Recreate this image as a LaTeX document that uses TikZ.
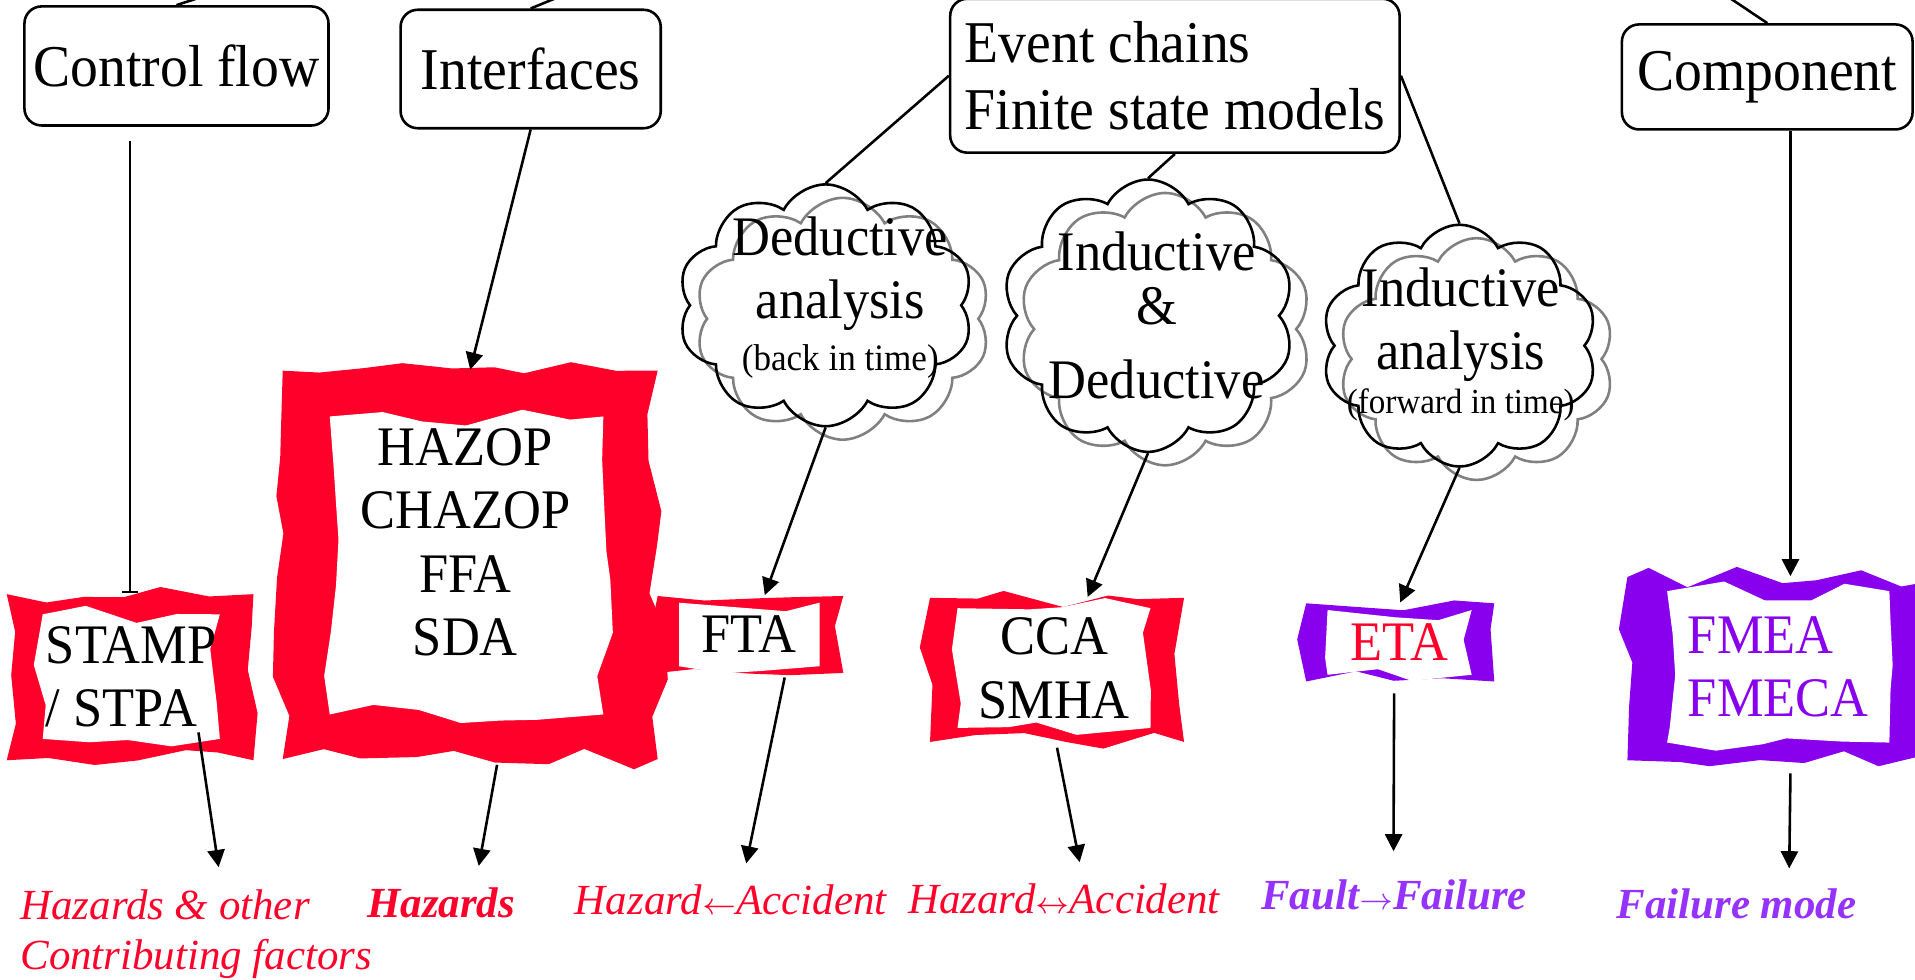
\documentclass[tikz,border=0pt]{standalone}
\usepackage{fontspec}
\setmainfont{Liberation Serif}[FakeStretch=0.94]
\newfontfamily\lblfont{Liberation Serif}
\usepackage{tikz}
\usetikzlibrary{arrows.meta,calc,positioning,shapes.symbols,decorations.pathmorphing}
\definecolor{hzred}{RGB}{255,0,43}
\definecolor{fmpur}{RGB}{136,0,238}
\definecolor{fmlbl}{RGB}{150,50,255}
\newcommand{\boxfont}{\fontsize{13.8}{15.6}\selectfont}
\newcommand{\tearfont}{\fontsize{13}{14.8}\selectfont}
\newcommand{\lblsize}{\lblfont\fontsize{10}{11.7}\selectfont}
\newcommand{\smallarr}[1]{\ensuremath{\scriptstyle#1}}

\begin{document}
\begin{tikzpicture}[>={Triangle[length=4pt,width=4pt]},
  topbox/.style={draw,rounded corners=4pt,line width=0.6pt,inner sep=0pt,font=\boxfont},
  cloudy/.style={cloud,cloud puffs=10,cloud puff arc=125,cloud ignores aspect,draw,line width=0.6pt,inner sep=0pt},
  cloudshade/.style={cloudy,draw=gray},
  torn/.style={fill=#1,decorate,decoration={random steps,segment length=10pt,amplitude=2.4pt},inner sep=0pt},
  hole/.style={torn=white,font=\tearfont,align=center},
  link/.style={line width=0.6pt},
  lbl/.style={inner sep=0pt,anchor=base west,font=\lblsize\itshape}]
  \pgfmathsetseed{7}
  \useasboundingbox (0,0) rectangle (15.68,8.02);
  \clip (0,0) rectangle (15.68,8.02);
  % top boxes
  \node[topbox,minimum width=2.49cm,minimum height=0.975cm] (ctl) at (1.445,7.48) {Control flow};
  \node[topbox,minimum width=2.13cm,minimum height=0.97cm] (ifc) at (4.345,7.455) {Interfaces};
  \node[topbox,minimum width=3.68cm,minimum height=1.26cm,align=left] (evt) at (9.62,7.40) {Event chains\\Finite state models};
  \node[topbox,minimum width=2.38cm,minimum height=0.86cm] (comp) at (14.47,7.39) {Component};
  \coordinate (ctlup) at (1.79,8.09); \coordinate (ifcup) at (4.71,8.10); \coordinate (compup) at (13.89,8.22);
  \draw[link] (ctl.north) -- (ctlup); \draw[link] (ifc.north) -- (ifcup); \draw[link] (comp.north) -- (compup);
  % clouds
  \node[cloudshade,minimum width=2.42cm,minimum height=1.98cm] (dshade) at (6.90,5.41) {};
  \node[cloudy,minimum width=2.42cm,minimum height=1.98cm] (dcloud) at (6.76,5.52) {};
  \node[cloudshade,minimum width=2.40cm,minimum height=2.23cm] (ishade) at (9.54,5.325) {};
  \node[cloudy,minimum width=2.40cm,minimum height=2.23cm] (icloud) at (9.40,5.435) {};
  \node[cloudshade,minimum width=2.26cm,minimum height=1.98cm] (fshade) at (12.09,5.08) {};
  \node[cloudy,minimum width=2.26cm,minimum height=1.98cm] (fcloud) at (11.95,5.19) {};
  \node[font=\tearfont,align=center] (dtxt) at (6.88,5.585) {Deductive\\analysis\\[-2.8pt]{\fontsize{8.7}{10}\selectfont(back in time)}};
  \node[font=\tearfont,align=center] (itxt) at (9.47,5.44) {Inductive\\[-2pt]\&\\[2.3pt]Deductive};
  \node[font=\tearfont,align=center] (ftxt) at (11.96,5.20) {Inductive\\analysis\\[-4.5pt]{\fontsize{8.2}{10}\selectfont(forward in time)}};
  % torn frames
  \node[torn=hzred,minimum width=2.02cm,minimum height=1.36cm] (stampf) at (1.065,2.475) {};
  \node[hole,minimum width=1.45cm,minimum height=1.02cm,align=left] (stamp) at (1.075,2.48) {STAMP\\/ STPA};
  \node[torn=hzred,minimum width=3.07cm,minimum height=3.18cm] (hazopf) at (3.85,3.395) {};
  \node[hole,minimum width=2.24cm,minimum height=2.44cm] (hazop) at (3.82,3.39) {};
  \node[font=\tearfont,align=center] (hazoptxt) at (3.81,3.58) {HAZOP\\CHAZOP\\FFA\\SDA};
  \node[torn=hzred,minimum width=1.52cm,minimum height=0.63cm] (ftaf) at (6.145,2.825) {};
  \node[hole,minimum width=1.15cm,minimum height=0.52cm] (fta) at (6.135,2.825) {FTA};
  \node[torn=hzred,minimum width=2.08cm,minimum height=1.18cm] (ccaf) at (8.655,2.535) {};
  \node[hole,minimum width=1.58cm,minimum height=0.98cm] (cca) at (8.63,2.55) {CCA\\SMHA};
  \node[torn=fmpur,minimum width=1.54cm,minimum height=0.64cm] (etaf) at (11.465,2.76) {};
  \node[hole,minimum width=1.18cm,minimum height=0.53cm,text=hzred] (eta) at (11.46,2.76) {ETA};
  \node[torn=fmpur,minimum width=2.67cm,minimum height=1.50cm] (fmeaf) at (14.66,2.545) {};
  \node[hole,minimum width=1.82cm,minimum height=1.24cm,align=left,text=fmpur] (fmea) at (14.56,2.56) {FMEA\\FMECA};
  % links down
  \draw[link,-{Bar[width=3.6pt]}] ($(stampf.north |- ctl.south)+(0,-0.12)$) -- (stampf.north);
  \draw[link,->] (ifc.south) -- (hazopf.north);
  \draw[link] (evt.west) -- (dcloud.north);
  \draw[link] (evt.south) -- (icloud.north);
  \draw[link] (evt.east) -- (fcloud.north);
  \draw[link,->] (dcloud.south) -- (ftaf);
  \draw[link,->] (icloud.south) -- (ccaf);
  \draw[link,->] (fcloud.south) -- (etaf.north);
  \draw[link,->] (comp.south -| fmeaf.north) -- (fmeaf.north);
  % outcomes
  \node[lbl,anchor=north west,align=left,text=hzred] (hzother) at (0.16,0.74) {Hazards \& other\\Contributing factors};
  \node[lbl,text=hzred,font=\lblsize\bfseries\itshape] (hzbold) at (3.00,0.51) {Hazards};
  \node[lbl,text=hzred] (hzback) at (4.70,0.53) {Hazard\smallarr{\leftarrow}Accident};
  \node[lbl,text=hzred] (hzboth) at (7.43,0.54) {Hazard\smallarr{\leftrightarrow}Accident};
  \node[lbl,text=fmlbl,font=\lblsize\bfseries\itshape] (flfail) at (10.32,0.57) {Fault\smallarr{\rightarrow}Failure};
  \node[lbl,text=fmlbl,font=\lblsize\bfseries\itshape] (fmode) at (13.23,0.50) {Failure mode};
  \coordinate (stampto) at (1.79,0.92); \coordinate (hazto) at (3.92,0.93); \coordinate (ftato) at (6.11,0.95);
  \coordinate (ccato) at (8.84,0.96); \coordinate (etato) at (11.41,1.05); \coordinate (fmeato) at (14.65,0.91);
  \draw[link,->] ($(stamp.south)+(0.55,0.06)$) -- (stampto);
  \draw[link,->] ($(hazopf.south)+(0.22,-0.04)$) -- (hazto);
  \draw[link,->] ($(ftaf.south)+(0.28,-0.03)$) -- (ftato);
  \draw[link,->] ($(ccaf.south)+(0,-0.04)$) -- (ccato);
  \draw[link,->] ($(etaf.south)+(-0.05,-0.09)$) -- (etato);
  \draw[link,->] ($(fmeaf.south)+(0,-0.10)$) -- (fmeato);
\end{tikzpicture}
\end{document}
